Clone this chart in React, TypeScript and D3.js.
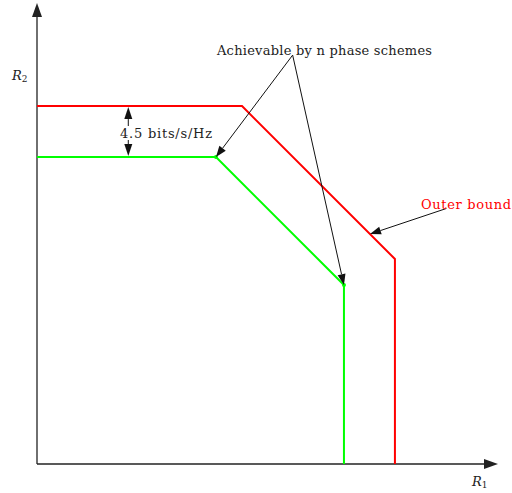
import React from "react";
import * as d3 from "d3";

// rate region corners, in bits/s/Hz
const outerBound: [number, number][] = [
  [0, 31.6],
  [18.1, 31.6],
  [31.6, 18.1],
  [31.6, 0],
];
const achievable: [number, number][] = [
  [0, 27.1],
  [15.8, 27.1],
  [27.1, 15.8],
  [27.1, 0],
];
const gapLabel = "4.5 bits/s/Hz";
const achievableLabel = "Achievable by n phase schemes";
const outerLabel = "Outer bound";
// annotation anchors in data units
const achievableTail: [number, number] = [22.57, 36.1];
const outerTail: [number, number] = [36.15, 22.56];
const outerHead: [number, number] = [29.4, 20.3];
const gapX = 8.06;

const width = 512;
const height = 493;
const x0 = 37;
const y0 = 464;

const x = d3.scaleLinear().domain([0, 40.7]).range([x0, 498]);
const y = d3.scaleLinear().domain([0, 40.7]).range([y0, 3]);

const font = "'DejaVu Serif', 'Liberation Serif', serif";

function Arrow({
  x1, y1, x2, y2, len = 10, half = 4, color = "#111", sw = 1,
}: {
  x1: number; y1: number; x2: number; y2: number;
  len?: number; half?: number; color?: string; sw?: number;
}) {
  const a = Math.atan2(y2 - y1, x2 - x1);
  const bx = x2 - len * Math.cos(a);
  const by = y2 - len * Math.sin(a);
  const px = -Math.sin(a) * half;
  const py = Math.cos(a) * half;
  return (
    <g>
      <line x1={x1} y1={y1} x2={bx} y2={by} stroke={color} strokeWidth={sw} />
      <polygon
        points={`${x2},${y2} ${bx + px},${by + py} ${bx - px},${by - py}`}
        fill={color}
      />
    </g>
  );
}

export default function App() {
  const line = d3
    .line<[number, number]>()
    .x((d) => x(d[0]))
    .y((d) => y(d[1]));

  const gTop = y(outerBound[0][1]);
  const gBot = y(achievable[0][1]);
  const gx = x(gapX);

  return (
    <svg width={width} height={height} style={{ position: "absolute", left: 0, top: 0 }}>
      <rect width={width} height={height} fill="#fff" />
      {/* axes */}
      <Arrow x1={x0} y1={y0} x2={x0} y2={y(40.7)} len={14} half={5} color="#222" sw={1.3} />
      <Arrow x1={x0} y1={y0} x2={x(40.7)} y2={y0} len={14} half={5} color="#222" sw={1.3} />
      <text x={12} y={80} fontFamily={font} fontStyle="italic" fontSize={13} fill="#222">
        R<tspan fontSize={9} dy={2} fontStyle="normal">2</tspan>
      </text>
      <text x={472} y={486} fontFamily={font} fontStyle="italic" fontSize={13} fill="#222">
        R<tspan fontSize={9} dy={2} fontStyle="normal">1</tspan>
      </text>

      {/* regions */}
      <path d={line(outerBound) ?? ""} fill="none" stroke="#ff0000" strokeWidth={2} />
      <path d={line(achievable) ?? ""} fill="none" stroke="#00ff00" strokeWidth={2} />
      {achievable.slice(1, 3).map((p, i) => (
        <circle key={i} cx={x(p[0])} cy={y(p[1])} r={2} fill="#00ff00" />
      ))}

      {/* gap annotation */}
      <Arrow x1={gx} y1={(gTop + gBot) / 2} x2={gx} y2={gTop + 1} len={12} half={4} />
      <Arrow x1={gx} y1={(gTop + gBot) / 2} x2={gx} y2={gBot - 1} len={12} half={4} />
      <rect x={119} y={126} width={94} height={14} fill="#fff" />
      <text x={120} y={138} fontFamily={font} fontSize={13} fill="#222" textLength={92}>
        {gapLabel}
      </text>

      {/* achievable annotation */}
      {achievable.slice(1, 3).map((p, i) => (
        <Arrow
          key={i}
          x1={x(achievableTail[0])}
          y1={y(achievableTail[1])}
          x2={x(p[0])}
          y2={y(p[1])}
          len={11}
          half={4}
        />
      ))}
      <text x={217} y={55} fontFamily={font} fontSize={13} fill="#222" textLength={215}>
        {achievableLabel}
      </text>

      {/* outer bound annotation */}
      <Arrow
        x1={x(outerTail[0])}
        y1={y(outerTail[1])}
        x2={x(outerHead[0])}
        y2={y(outerHead[1])}
        len={11}
        half={4}
      />
      <text x={421} y={209} fontFamily={font} fontSize={13} fill="#ff0000" textLength={90}>
        {outerLabel}
      </text>
    </svg>
  );
}
